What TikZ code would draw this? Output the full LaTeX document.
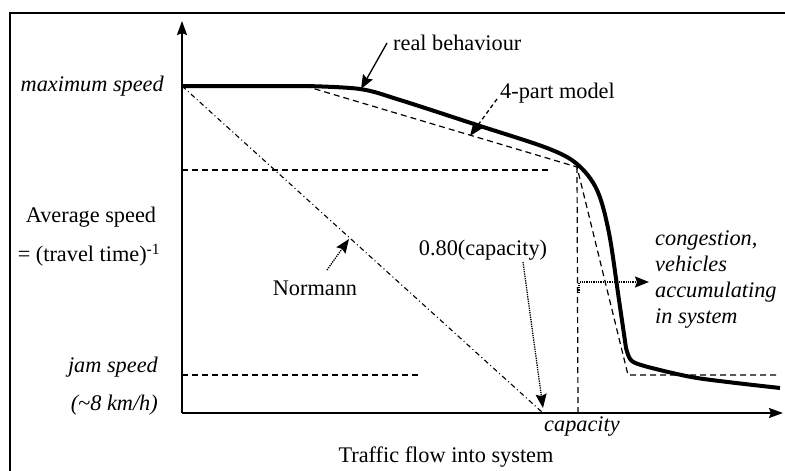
\documentclass[tikz,border=0pt]{standalone}
\usepackage{fontspec}
\setmainfont{Liberation Serif}
\usetikzlibrary{arrows.meta}
\begin{document}
\begin{tikzpicture}[x=1pt,y=-1pt,
  txt/.style={font=\fontsize{22.3}{26}\selectfont, inner sep=0pt},
  itxt/.style={txt, font=\fontsize{22.3}{26}\selectfont\itshape},
  model/.style={dash pattern=on 6pt off 4pt, line width=1.2pt},
  pointer/.style={-{Stealth[length=14pt,width=11pt,inset=2pt]}, line width=1.3pt}]
	\useasboundingbox (0,0) rectangle (785,471);
	% frame
	\draw[line width=1.4pt] (10,471) -- (10,13) -- (785,13);
	
	% axes
	\coordinate (o) at (182,413);
	\draw[line width=2pt, -{Stealth[length=14pt,width=10pt,inset=2pt]}] (o) -- (182,21);
	\draw[line width=2pt, -{Stealth[length=14pt,width=10pt,inset=2pt]}] (o) -- (783,413);
	
	% y labels
	\node[itxt, anchor=east] (vmax) at (164,86){maximum speed};
	\node[txt] (avg) at (91,217){Average speed};
	\node[txt] (tt) at (89,255){= (travel time)\textsuperscript{-1}};
	\node[itxt, anchor=east] (jam) at (158,367){jam speed};
	\node[itxt, anchor=east] (kmh) at (158,405){(\textasciitilde 8 km/h)};
	
	% x labels
	\node[itxt] (cap) at (582,427){capacity};
	\node[txt] (flow) at (446,457){Traffic flow into system};
	
	% 4-part model
	\draw[model] (182,170) -- (550,170);
	\draw[model] (182,375) -- (420,375);
	\draw[model] (305,86) -- (577,167) -- (628,375) -- (780,375);
	\draw[model] (577,167) -- (578,413);
	
	% Normann
	\draw[line width=1.1pt, dash pattern=on 5pt off 3pt on 1pt off 3pt] (182,86) -- (543,413);
	
	% real behaviour
	\draw[line width=4pt] (182,86) -- (305,86)
	 plot[smooth, tension=0.55] coordinates {(305,86) (360,89) (400,100) (477,125) (547,148) (577,164) (597,190) (609,233) (619,300) (626,348)}
	 .. controls (630,362) .. (648,367)
	 plot[smooth, tension=0.5] coordinates {(648,367) (697,378) (780,388)};
	
	% annotations
	\node[txt, anchor=west] (real) at (393,43){real behaviour};
	\coordinate (realtip) at (361,89);
	\draw[pointer] (387,43) -- (realtip);
	
	\node[txt, anchor=west] (four) at (500,93){4-part model};
	\coordinate (fourtip) at (470,136);
	\draw[pointer, dash pattern=on 4pt off 3pt] (497,99) -- (fourtip);
	
	\node[txt] (norm) at (315,288){Normann};
	\coordinate (normtip) at (349,239);
	\draw[pointer, densely dotted] (327,270) -- (normtip);
	
	\node[txt] (eighty) at (483,250){0.80(capacity)};
	\coordinate (eightytip) at (543,408);
	\draw[pointer, densely dotted] (523,262) -- (eightytip);
	
	\node[itxt, anchor=north west, align=left] (cong) at (655,231){congestion,\\vehicles\\accumulating\\in system};
	\coordinate (congtip) at (649,282);
	\draw[pointer, densely dotted] (579,293) |- (congtip);
	
\end{tikzpicture}
\end{document}
